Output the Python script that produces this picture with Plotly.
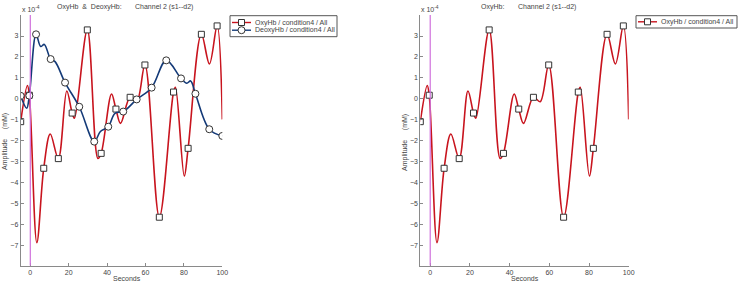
import plotly.graph_objects as go

# ---------------- data ----------------
# OxyHb key points (seconds, amplitude x 1e-4 mM)
oxy_t = [-5, -1.5, -0.5, 3.4, 7.0, 10.4, 14.6, 19.0, 21.8, 23.0, 29.7, 35.2, 36.9,
         42.3, 44.6, 47.0, 52.0, 55.4, 59.7, 67.2, 74.6, 75.6, 80.2, 82.2, 89.1,
         93.3, 97.3, 100]
oxy_v = [-1.08, 0.64, 0.18, -6.84, -3.3, -1.67, -2.84, 0.38, -0.67, -0.92, 3.29, -2.83, -2.59,
         0.24, -0.48, -1.16, 0.08, -0.13, 1.62, -5.63, 0.33, 0.56, -3.67, -2.35, 3.08,
         1.67, 3.48, -0.97]
oxy_mark_t = [-5, -0.5, 7.0, 14.6, 21.8, 29.7, 36.9, 44.6, 52.0, 59.7, 67.2, 74.6, 82.2, 89.1, 97.3]

# DeoxyHb key points
deoxy_t = [-5, -1.9, -0.5, 3.0, 5.4, 7.3, 10.6, 12.9, 18.1, 25.5, 33.3, 36.5, 40.6,
           44.1, 48.4, 55.4, 63.2, 70.8, 78.5, 81.5, 83.5, 86.0, 93.2, 100]
deoxy_v = [0.15, -0.44, 0.16, 3.08, 2.5, 2.6, 1.9, 1.78, 0.78, -0.37, -2.03, -1.55, -1.32,
           -0.68, -0.6, -0.02, 0.54, 1.84, 0.98, 0.75, 0.86, 0.25, -1.44, -1.76]
deoxy_mark_t = [-5, -0.5, 3.0, 10.6, 18.1, 25.5, 33.3, 40.6, 48.4, 55.4, 63.2, 70.8, 78.5, 86.0, 93.2, 100]

x_ticks = [0, 20, 40, 60, 80, 100]
y_ticks = [-7, -6, -5, -4, -3, -2, -1, 0, 1, 2, 3]
oxy_name = "OxyHb / condition4 / All"
deoxy_name = "DeoxyHb / condition4 / All"

# ---------------- styling ----------------
W, H = 740, 283
RED = "#c8141e"
BLUE = "#143a78"
MAG = "#d070dc"
AX = "#8a8a8a"
TXT = "#444444"
MK = "#333333"
FONT = "Liberation Sans, Arial, sans-serif"
FS = 7


def marks(ts, vs, mt):
    lut = dict(zip(ts, vs))
    xs, ys = [], []
    for t in mt:
        xs += [t, None]
        ys += [lut[t], None]
    return xs, ys


fig = go.Figure()
mx, my = marks(oxy_t, oxy_v, oxy_mark_t)
dx, dy = marks(deoxy_t, deoxy_v, deoxy_mark_t)


def curve(t, v, color, xa, ya, name):
    fig.add_trace(go.Scatter(x=t, y=v, mode="lines", name=name,
                             line=dict(color=color, width=1.6, shape="spline", smoothing=1.0),
                             xaxis=xa, yaxis=ya, showlegend=False))


def markers(x, y, color, sym, size, xa, ya, name):
    fig.add_trace(go.Scatter(x=x, y=y, mode="markers", name=name,
                             marker=dict(symbol=sym, size=size, color="white", line=dict(color=MK, width=1)),
                             xaxis=xa, yaxis=ya, showlegend=False))


curve(oxy_t, oxy_v, RED, "x", "y", oxy_name)
markers(mx, my, RED, "square", 6, "x", "y", oxy_name)
curve(deoxy_t, deoxy_v, BLUE, "x", "y", deoxy_name)
markers(dx, dy, BLUE, "circle", 7, "x", "y", deoxy_name)
curve(oxy_t, oxy_v, RED, "x2", "y2", oxy_name)
markers(mx, my, RED, "square", 6, "x2", "y2", oxy_name)

ytop, ybot = 15, 265.5
ydom = [(H - ybot) / H, (H - ytop) / H]
axcommon = dict(showline=True, linecolor=AX, linewidth=1, ticks="inside", ticklen=3, tickcolor=AX,
                showgrid=False, zeroline=False, automargin=False,
                tickfont=dict(family=FONT, size=FS, color=TXT))

fig.update_layout(
    width=W, height=H, margin=dict(l=0, r=0, t=0, b=0, autoexpand=False),
    paper_bgcolor="white", plot_bgcolor="white", showlegend=False,
    font=dict(family=FONT, size=FS, color=TXT),
    xaxis=dict(domain=[20.7 / W, 222.3 / W], range=[-5, 100], tickvals=x_ticks, anchor="y", **axcommon),
    yaxis=dict(domain=ydom, range=[-7.93, 4], tickvals=y_ticks, anchor="x", **axcommon),
    xaxis2=dict(domain=[420.3 / W, 628.7 / W], range=[-5, 100], tickvals=x_ticks, anchor="y2", **axcommon),
    yaxis2=dict(domain=ydom, range=[-7.93, 4], tickvals=y_ticks, anchor="x2", **axcommon),
)

for xr in ["x", "x2"]:
    yr = "y" if xr == "x" else "y2"
    fig.add_shape(type="line", xref=xr, yref=yr + " domain", x0=0, x1=0, y0=0, y1=1,
                  line=dict(color=MAG, width=1.2), layer="above")

ann = []


def A(text, x, y, **kw):
    d = dict(text=text, x=x / W, y=1 - y / H, xref="paper", yref="paper", showarrow=False,
             xanchor="center", yanchor="middle",
             font=dict(family=FONT, size=FS, color=TXT))
    d.update(kw)
    ann.append(d)


def px_shape(kind, x0, y0, x1, y1, **kw):
    fig.add_shape(type=kind, xref="paper", yref="paper",
                  x0=x0 / W, x1=x1 / W, y0=1 - y0 / H, y1=1 - y1 / H, layer="above", **kw)


def legend_box(x0, y0, x1, y1, entries):
    px_shape("rect", x0, y0, x1, y1, line=dict(color="#555555", width=1), fillcolor="white")
    for (yc, color, sym, name) in entries:
        px_shape("line", x0 + 2, yc, x0 + 21, yc, line=dict(color=color, width=1.4))
        cx = x0 + 11.5
        if sym == "square":
            px_shape("rect", cx - 3, yc - 3, cx + 3, yc + 3, line=dict(color=MK, width=1), fillcolor="white")
        else:
            px_shape("circle", cx - 3.5, yc - 3.5, cx + 3.5, yc + 3.5, line=dict(color=MK, width=1), fillcolor="white")
        A(name, x0 + 23, yc, xanchor="left")


legend_box(230, 15.7, 337, 36.7, [(22.5, RED, "square", oxy_name), (30.2, BLUE, "circle", deoxy_name)])
legend_box(636, 15.7, 737, 28.0, [(21.8, RED, "square", oxy_name)])

# titles
A("OxyHb  &amp;  DeoxyHb:", 55, 7.5, xanchor="left")
A("Channel 2 (s1--d2)", 132.7, 7.5, xanchor="left")
A("OxyHb:", 479, 7.5, xanchor="left")
A("Channel 2 (s1--d2)", 516, 7.5, xanchor="left")
# exponent labels
A("x 10<sup>-4</sup>", 20, 9, xanchor="left")
A("x 10<sup>-4</sup>", 419, 9, xanchor="left")
# axis titles
A("Seconds", 126.5, 278.5)
A("Seconds", 524.5, 278.5)
A("Amplitude     (mM)", 5, 142, textangle=-90)
A("Amplitude     (mM)", 405, 142, textangle=-90)
fig.update_layout(annotations=ann)

fig.write_html("out.html", config={"displayModeBar": False},
               post_script="document.body.style.margin='0';document.body.style.padding='0';")
